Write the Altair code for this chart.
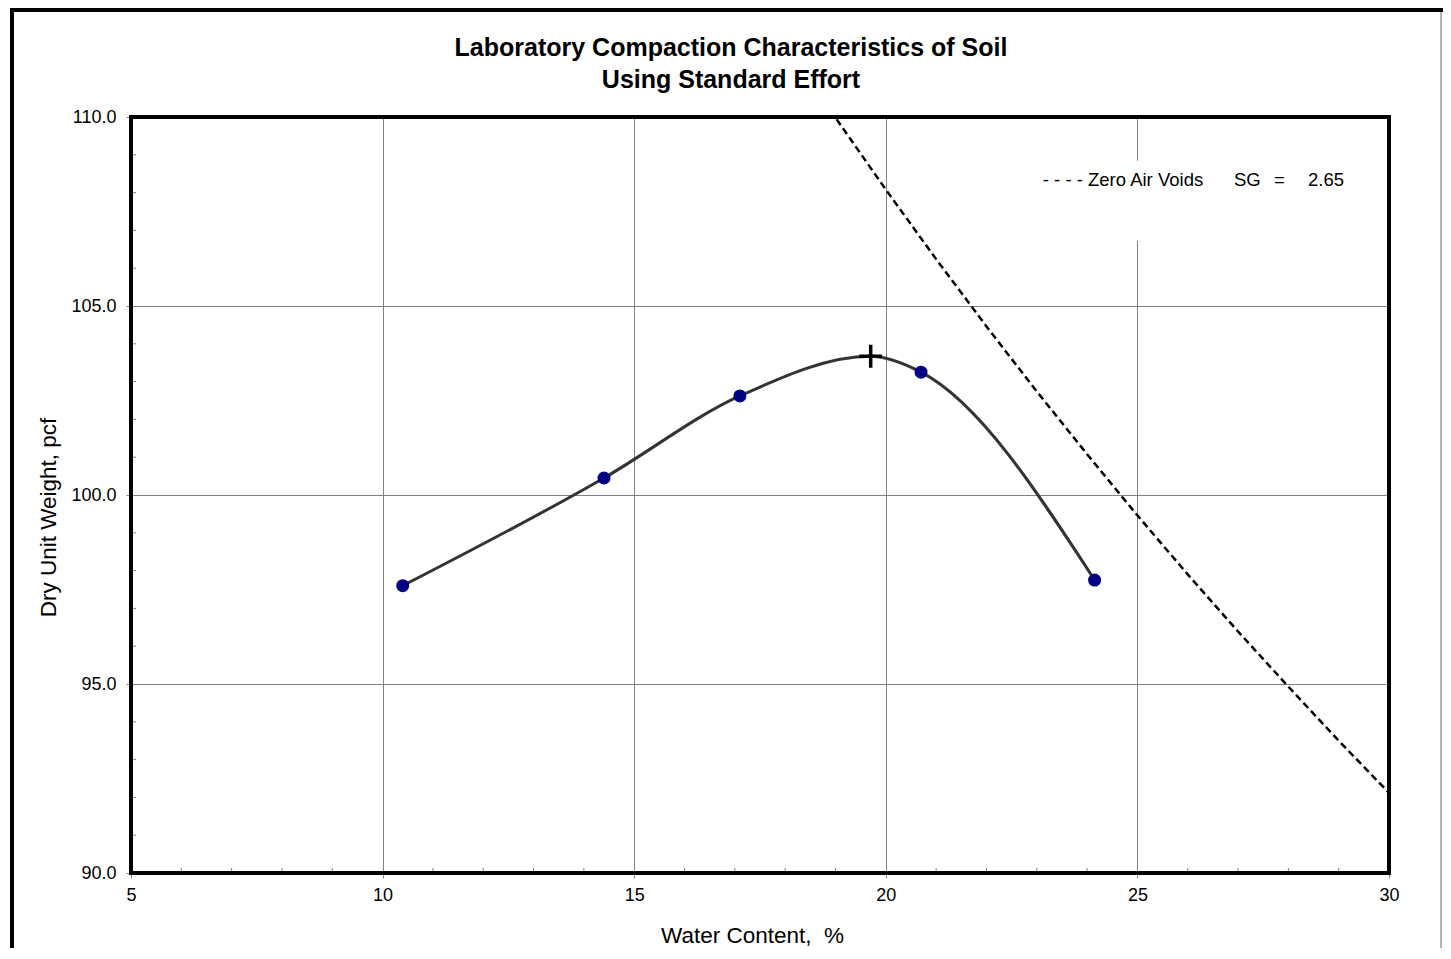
import altair as alt
import pandas as pd

# ---- data ----
water = [10.4, 14.4, 17.1, 20.7, 24.15]          # water content, %
dry = [97.6, 100.45, 102.62, 103.25, 97.75]      # dry unit weight, pcf

curve_w = [10.4, 14.4, 17.1, 19.7, 20.7, 24.15]
curve_d = [97.6, 100.45, 102.62, 103.67, 103.25, 97.75]

peak_w = [19.7]
peak_d = [103.67]

zav_w = [18.9, 19, 20, 21, 22, 23, 24, 25, 26, 27, 28, 29, 30]
zav_d = [110.18, 109.98, 108.08, 106.24, 104.46, 102.74, 101.08, 99.46, 97.90, 96.39, 94.93, 93.50, 92.12]

x_ticks = [5, 10, 15, 20, 25, 30]
y_ticks = [90, 95, 100, 105, 110]
x_minor = [6, 7, 8, 9, 11, 12, 13, 14, 16, 17, 18, 19, 21, 22, 23, 24, 26, 27, 28, 29]
y_minor = [91, 92, 93, 94, 96, 97, 98, 99, 101, 102, 103, 104, 106, 107, 108, 109]

title_lines = ["Laboratory Compaction Characteristics of Soil", "Using Standard Effort"]
x_title = "Water Content,\u00a0\u00a0%"
y_title = "Dry Unit Weight, pcf"
legend_label = "- - - - Zero Air Voids"
sg_label = "SG"
eq_label = "="
sg_value = "2.65"

FONT = "Liberation Sans"
W, H = 1258, 756
GRID = "#808080"

xs = alt.Scale(domain=[5, 30], nice=False, zero=False)
ys = alt.Scale(domain=[90, 110], nice=False, zero=False)

pts = pd.DataFrame({"w": water, "d": dry})
curve = pd.DataFrame({"w": curve_w, "d": curve_d})
peak = pd.DataFrame({"w": peak_w, "d": peak_d})
zav = pd.DataFrame({"w": zav_w, "d": zav_d})
one = pd.DataFrame({"a": [0]})

x_axis = alt.Axis(values=x_ticks, grid=True, gridColor=GRID, gridWidth=1, domain=False,
                  tickSize=5, tickColor=GRID, labelFont=FONT, labelFontSize=18, labelColor="black",
                  labelPadding=8, labelFlush=False, title=x_title, titleFont=FONT, titleFontSize=22.5,
                  titleFontWeight="normal", titleColor="black", titleY=62, titleBaseline="middle",
                  titleX=621)
y_axis = alt.Axis(values=y_ticks, grid=True, gridColor=GRID, gridWidth=1, domain=False,
                  tickSize=5, tickColor=GRID, format=".1f", labelFont=FONT, labelFontSize=18,
                  labelColor="black", labelPadding=10, labelFlush=False, title=y_title, titleFont=FONT,
                  titleFontSize=22.5, titleFontWeight="normal", titleColor="black", titleX=-83,
                  titleY=400, titleBaseline="middle", titleAngle=-90)

# ZAV dashed line
zav_line = alt.Chart(zav).mark_line(color="black", strokeWidth=2.5, strokeDash=[7, 4], clip=True).encode(
    x=alt.X("w:Q", scale=xs, axis=x_axis),
    y=alt.Y("d:Q", scale=ys, axis=y_axis),
)

# legend white box (hides the grid behind the legend text)
box = alt.Chart(one).mark_rect(color="white").encode(
    x=alt.datum(22.9, scale=xs), x2=alt.datum(29.6),
    y=alt.datum(106.72, scale=ys), y2=alt.datum(108.84),
)

legend_df = pd.DataFrame({
    "w": [23.12, 26.92, 27.82, 28.39],
    "d": [108.33] * 4,
    "t": [legend_label, sg_label, eq_label, sg_value],
    "al": ["left", "left", "center", "left"],
})
leg_left = alt.Chart(legend_df[legend_df.al == "left"]).mark_text(
    font=FONT, fontSize=18.5, color="black", align="left", baseline="middle").encode(
    x=alt.X("w:Q", scale=xs), y=alt.Y("d:Q", scale=ys), text="t:N")
leg_center = alt.Chart(legend_df[legend_df.al == "center"]).mark_text(
    font=FONT, fontSize=18.5, color="black", align="center", baseline="middle").encode(
    x=alt.X("w:Q", scale=xs), y=alt.Y("d:Q", scale=ys), text="t:N")

# minor ticks (inward)
xm = alt.Chart(pd.DataFrame({"w": x_minor})).mark_rule(color=GRID, strokeWidth=1).encode(
    x=alt.X("w:Q", scale=xs), y=alt.value(H), y2=alt.value(H - 5))
ym = alt.Chart(pd.DataFrame({"d": y_minor})).mark_rule(color=GRID, strokeWidth=1).encode(
    y=alt.Y("d:Q", scale=ys), x=alt.value(0), x2=alt.value(5))

# compaction curve
curve_line = alt.Chart(curve).mark_line(color="#333333", strokeWidth=3, interpolate="monotone").encode(
    x=alt.X("w:Q", scale=xs), y=alt.Y("d:Q", scale=ys))

dots = alt.Chart(pts).mark_point(filled=True, color="#000080", opacity=1, size=170, shape="circle").encode(
    x=alt.X("w:Q", scale=xs), y=alt.Y("d:Q", scale=ys))

cross = alt.Chart(peak).mark_point(shape="M-1,0L1,0M0,-1L0,1", filled=False, color="black",
                                   strokeWidth=3.5, size=520, opacity=1).encode(
    x=alt.X("w:Q", scale=xs), y=alt.Y("d:Q", scale=ys))

# plot-area border
border = alt.Chart(one).mark_rect(filled=False, stroke="black", strokeWidth=4, fill=None).encode(
    x=alt.value(0), x2=alt.value(W), y=alt.value(0), y2=alt.value(H))

# title
title1 = alt.Chart(one).mark_text(text=title_lines[0], font=FONT, fontSize=25, fontWeight="bold",
                                  color="black", align="center", baseline="middle").encode(
    x=alt.value(600), y=alt.value(-69))
title2 = alt.Chart(one).mark_text(text=title_lines[1], font=FONT, fontSize=25, fontWeight="bold",
                                  color="black", align="center", baseline="middle").encode(
    x=alt.value(600), y=alt.value(-37))

# outer frame of the figure
frame_top = alt.Chart(one).mark_rule(color="black", strokeWidth=4).encode(
    x=alt.value(-121), x2=alt.value(1312), y=alt.value(-107))
frame_left = alt.Chart(one).mark_rule(color="black", strokeWidth=4).encode(
    x=alt.value(-119), y=alt.value(-109), y2=alt.value(H + 80))
frame_right = alt.Chart(one).mark_rule(color="#999999", strokeWidth=1.5).encode(
    x=alt.value(1310), y=alt.value(-105), y2=alt.value(H + 80))

chart = alt.layer(
    zav_line, box, xm, ym, curve_line, dots, cross, leg_left, leg_center, border,
    title1, title2, frame_top, frame_left, frame_right,
).properties(
    width=W, height=H,
    autosize=alt.AutoSizeParams(type="none"),
    padding={"left": 123, "top": 109, "right": 54, "bottom": 75},
).configure_view(stroke=None).configure(background="white")

chart.save("out.html", embed_options={"renderer": "svg", "actions": False})
